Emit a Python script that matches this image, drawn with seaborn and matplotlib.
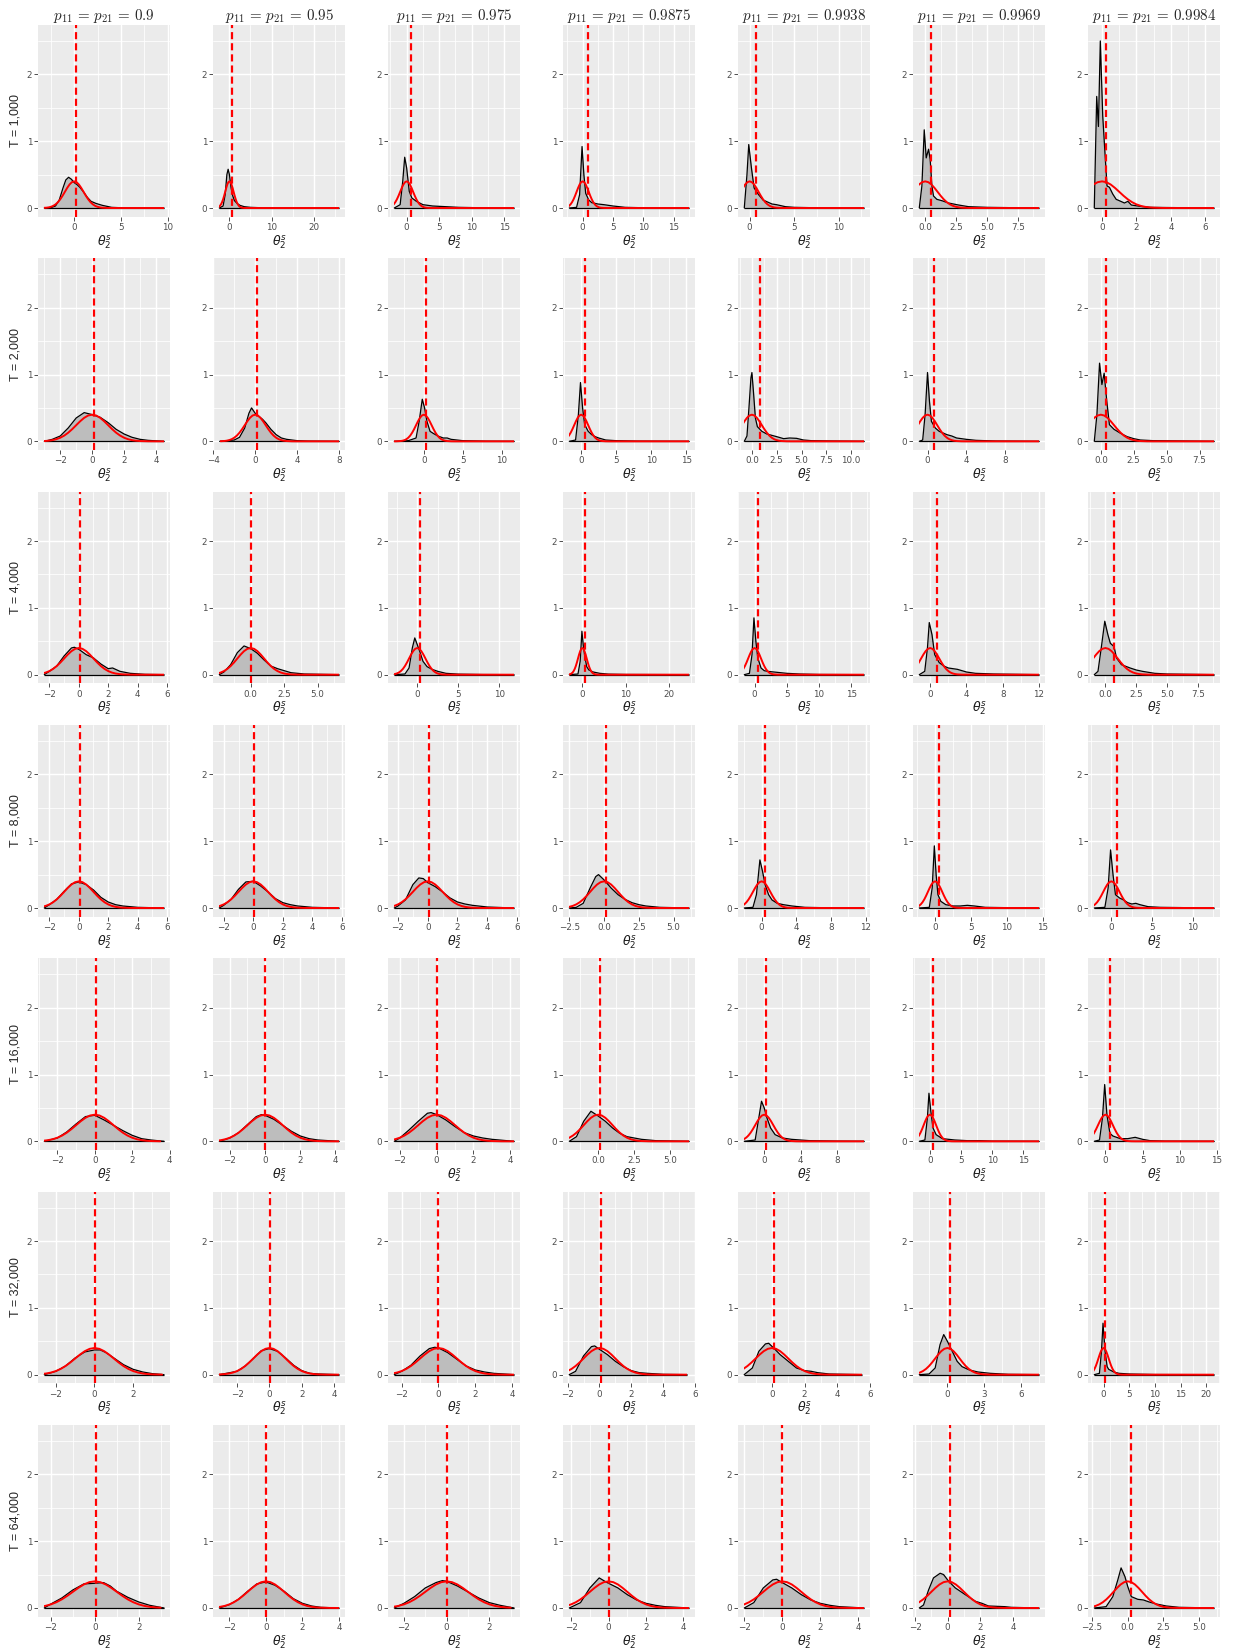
import matplotlib
matplotlib.use("Agg")
import matplotlib.pyplot as plt
from matplotlib.patches import Rectangle
import seaborn as sns

# ---------------- labels ----------------
COL_LABELS = ["0.9", "0.95", "0.975", "0.9875", "0.9938", "0.9969", "0.9984"]
ROW_LABELS = ["T = 1,000", "T = 2,000", "T = 4,000", "T = 8,000",
              "T = 16,000", "T = 32,000", "T = 64,000"]

# ---------------- reference N(0,1) curve (red) ----------------
NORMAL_X = [-4.0, -3.5, -3.0, -2.75, -2.5, -2.25, -2.0, -1.75, -1.5, -1.25, -1.0, -0.75, -0.5, -0.25,
            0.0, 0.25, 0.5, 0.75, 1.0, 1.25, 1.5, 1.75, 2.0, 2.25, 2.5, 2.75, 3.0, 3.5, 4.0]
NORMAL_Y = [0.0001, 0.0009, 0.0044, 0.0091, 0.0175, 0.0317, 0.054, 0.0863, 0.1295, 0.1826, 0.242,
            0.3011, 0.3521, 0.3867, 0.3989, 0.3867, 0.3521, 0.3011, 0.242, 0.1826, 0.1295, 0.0863,
            0.054, 0.0317, 0.0175, 0.0091, 0.0044, 0.0009, 0.0001]

# ---------------- T = 1,000 ----------------
TICKS_1000 = [[0, 5, 10], [0, 10, 20], [0, 5, 10, 15], [0, 5, 10, 15], [0, 5, 10], [0, 2.5, 5, 7.5], [0, 2, 4, 6]]
VLINE_1000 = [0.2, 0.5, 0.7, 0.8, 0.7, 0.5, 0.25]
DX_1000 = [
    [-3.2, -2.5, -2, -1.6, -1.2, -0.9, -0.6, -0.3, 0, 0.3, 0.6, 1, 1.4, 1.8, 2.3, 3, 4, 5, 7, 9.6],
    [-2.4, -1.5, -1, -0.6, -0.3, 0, 0.4, 0.8, 1.2, 1.8, 2.5, 3.5, 5, 8, 12, 26],
    [-1.9, -1.0, -0.6, -0.3, 0, 0.4, 0.8, 1.5, 2.5, 4, 6, 8, 12, 16.5],
    [-2.2, -1, -0.5, -0.1, 0.2, 0.5, 1, 1.5, 2.5, 3.5, 5, 7, 10, 17.5],
    [-0.6, -0.3, -0.1, 0.2, 0.5, 1, 1.5, 2.5, 3, 4, 5, 7, 12.8],
    [-0.48, -0.27, -0.08, 0.08, 0.27, 0.4, 0.54, 0.67, 0.94, 1.34, 1.88, 2.69, 3.5, 5, 9.2],
    [-0.45, -0.31, -0.21, -0.1, 0.04, 0.18, 0.29, 0.43, 0.62, 0.82, 1.0, 1.3, 1.5, 1.7, 2.2, 2.8, 6.5],
]
DY_1000 = [
    [0, 0.005, 0.03, 0.12, 0.3, 0.42, 0.46, 0.43, 0.38, 0.35, 0.31, 0.24, 0.16, 0.1, 0.07, 0.04, 0.01, 0.004, 0.001, 0],
    [0, 0.03, 0.2, 0.5, 0.58, 0.5, 0.3, 0.18, 0.11, 0.07, 0.04, 0.02, 0.01, 0.003, 0.001, 0],
    [0, 0.05, 0.4, 0.76, 0.6, 0.25, 0.15, 0.1, 0.05, 0.03, 0.02, 0.01, 0.003, 0],
    [0, 0.01, 0.2, 0.92, 0.5, 0.22, 0.12, 0.08, 0.06, 0.05, 0.03, 0.01, 0.004, 0],
    [0, 0.5, 0.95, 0.6, 0.3, 0.2, 0.12, 0.06, 0.05, 0.02, 0.01, 0.005, 0],
    [0, 0.33, 1.17, 0.75, 0.88, 0.73, 0.33, 0.18, 0.13, 0.11, 0.075, 0.045, 0.02, 0.01, 0],
    [0, 1.67, 1.22, 2.5, 1.38, 0.78, 0.33, 0.31, 0.21, 0.13, 0.11, 0.075, 0.1, 0.045, 0.025, 0.01, 0],
]

# ---------------- T = 2,000 ----------------
TICKS_2000 = [[-2, 0, 2, 4], [-4, 0, 4, 8], [0, 5, 10], [0, 5, 10, 15], [0, 2.5, 5, 7.5, 10], [0, 4, 8], [0, 2.5, 5, 7.5]]
VLINE_2000 = [0.1, 0.2, 0.3, 0.6, 0.8, 0.7, 0.4]
DX_2000 = [
    [-3.0, -2.5, -2, -1.5, -1, -0.5, 0, 0.5, 1, 1.5, 2, 2.5, 3, 3.5, 4.5],
    [-3.4, -2, -1.5, -1, -0.6, -0.35, 0, 0.3, 0.7, 1, 1.5, 2, 2.5, 3, 4, 5, 8],
    [-3.8, -2, -1, -0.6, -0.2, 0.1, 0.4, 0.8, 1.2, 1.8, 2.5, 3, 3.5, 5, 8, 11.6],
    [-1.7, -0.8, -0.4, -0.1, 0.2, 0.5, 1, 1.5, 2, 2.5, 3.5, 5, 8, 15.4],
    [-0.77, -0.5, -0.3, -0.1, 0, 0.15, 0.35, 0.55, 1, 1.5, 2.5, 3.2, 3.8, 4.5, 5.2, 6, 8, 11.3],
    [-0.85, -0.5, -0.25, 0, 0.2, 0.4, 0.8, 1.2, 2, 2.5, 3, 4, 5, 7, 11.5],
    [-0.5, -0.3, -0.1, 0.08, 0.25, 0.45, 0.65, 1, 1.5, 2, 2.5, 3, 4, 8.6],
]
DY_2000 = [
    [0, 0.03, 0.08, 0.2, 0.35, 0.43, 0.4, 0.36, 0.28, 0.18, 0.11, 0.06, 0.03, 0.015, 0],
    [0, 0.02, 0.06, 0.2, 0.42, 0.5, 0.42, 0.38, 0.33, 0.28, 0.18, 0.1, 0.05, 0.03, 0.01, 0.004, 0],
    [0, 0.01, 0.05, 0.3, 0.63, 0.5, 0.3, 0.15, 0.12, 0.08, 0.05, 0.05, 0.03, 0.01, 0.002, 0],
    [0, 0.02, 0.4, 0.88, 0.5, 0.25, 0.15, 0.1, 0.07, 0.05, 0.02, 0.01, 0.003, 0],
    [0, 0.08, 0.5, 0.95, 1.03, 0.75, 0.35, 0.22, 0.15, 0.11, 0.07, 0.04, 0.05, 0.045, 0.02, 0.01, 0.005, 0],
    [0, 0.02, 0.4, 1.03, 0.6, 0.3, 0.2, 0.15, 0.1, 0.08, 0.05, 0.03, 0.015, 0.005, 0],
    [0, 0.4, 1.17, 0.85, 1.02, 0.6, 0.25, 0.18, 0.12, 0.07, 0.04, 0.02, 0.01, 0],
]

# ---------------- T = 4,000 ----------------
TICKS_4000 = [[-2, 0, 2, 4, 6], [0, 2.5, 5], [0, 5, 10], [0, 10, 20], [0, 5, 10, 15], [0, 4, 8, 12], [0, 2.5, 5, 7.5]]
VLINE_4000 = [0.05, 0.05, 0.3, 0.6, 0.6, 0.8, 0.7]
DX_4000 = [
    [-2.35, -2, -1.5, -1, -0.5, -0.3, 0, 0.5, 1, 1.5, 2, 2.3, 2.8, 3.5, 4.5, 5.8],
    [-2.35, -2, -1.5, -1, -0.5, 0, 0.5, 1, 1.5, 2, 2.5, 3, 4, 6.6],
    [-2.8, -1.5, -1, -0.6, -0.3, 0, 0.3, 0.7, 1.2, 1.8, 2.5, 3.5, 5, 8, 11.8],
    [-3, -1, -0.5, -0.1, 0.2, 0.5, 1, 1.5, 2.5, 4, 6, 10, 24.5],
    [-1.6, -0.8, -0.4, -0.1, 0.2, 0.5, 1, 1.5, 2, 3, 4, 5, 7, 10, 17],
    [-1.2, -0.6, -0.3, -0.1, 0.2, 0.5, 1, 1.5, 2, 3, 4, 5, 7, 12],
    [-0.9, -0.6, -0.3, -0.05, 0.2, 0.4, 0.7, 0.9, 1.3, 2, 2.5, 3, 4, 5, 8.8],
]
DY_4000 = [
    [0, 0.05, 0.13, 0.28, 0.4, 0.41, 0.38, 0.3, 0.25, 0.16, 0.09, 0.1, 0.05, 0.02, 0.005, 0],
    [0, 0.04, 0.15, 0.33, 0.43, 0.39, 0.32, 0.22, 0.13, 0.09, 0.06, 0.03, 0.01, 0],
    [0, 0.01, 0.1, 0.4, 0.55, 0.45, 0.35, 0.2, 0.12, 0.08, 0.05, 0.02, 0.008, 0.002, 0],
    [0, 0.01, 0.2, 0.65, 0.45, 0.3, 0.12, 0.07, 0.04, 0.02, 0.008, 0.003, 0],
    [0, 0.02, 0.3, 0.85, 0.5, 0.25, 0.1, 0.06, 0.05, 0.04, 0.03, 0.02, 0.01, 0.003, 0],
    [0, 0.05, 0.4, 0.78, 0.6, 0.3, 0.18, 0.13, 0.1, 0.08, 0.04, 0.02, 0.01, 0],
    [0, 0.05, 0.45, 0.8, 0.6, 0.47, 0.42, 0.25, 0.15, 0.1, 0.07, 0.05, 0.02, 0.01, 0],
]

# ---------------- T = 8,000 ----------------
TICKS_8000 = [[-2, 0, 2, 4, 6], [-2, 0, 2, 4, 6], [-2, 0, 2, 4, 6], [-2.5, 0, 2.5, 5], [0, 4, 8, 12], [0, 5, 10, 15], [0, 5, 10]]
VLINE_8000 = [0.05, 0.05, 0.1, 0.15, 0.4, 0.6, 0.7]
DX_8000 = [
    [-2.35, -2, -1.5, -1, -0.5, 0, 0.5, 1, 1.5, 2, 2.5, 3, 4, 5.8],
    [-2.3, -2, -1.5, -1, -0.5, 0, 0.5, 1, 1.5, 2, 2.5, 3, 4, 5.8],
    [-2.25, -2, -1.5, -1, -0.6, -0.3, 0, 0.5, 1, 1.5, 2, 2.5, 3, 4, 5.8],
    [-2.5, -2, -1.5, -1, -0.6, -0.4, 0, 0.5, 1, 1.5, 2, 2.5, 3, 4, 6.1],
    [-2, -1, -0.6, -0.2, 0.1, 0.4, 0.8, 1.2, 1.8, 2.5, 3.5, 5, 7, 11.8],
    [-2.2, -0.8, -0.4, -0.1, 0.15, 0.4, 0.8, 1.5, 2.5, 3.5, 4.5, 5.5, 7, 10, 14.5],
    [-2.1, -0.8, -0.4, -0.1, 0.2, 0.5, 1, 1.5, 2, 2.5, 3, 3.5, 4.5, 6, 12.6],
]
DY_8000 = [
    [0, 0.05, 0.13, 0.25, 0.36, 0.39, 0.35, 0.27, 0.16, 0.09, 0.05, 0.03, 0.01, 0],
    [0, 0.04, 0.13, 0.28, 0.39, 0.4, 0.33, 0.24, 0.14, 0.08, 0.05, 0.03, 0.01, 0],
    [0, 0.03, 0.12, 0.35, 0.45, 0.44, 0.38, 0.32, 0.24, 0.15, 0.09, 0.06, 0.04, 0.015, 0],
    [0, 0.01, 0.07, 0.3, 0.47, 0.5, 0.42, 0.3, 0.2, 0.13, 0.08, 0.05, 0.03, 0.01, 0],
    [0, 0.01, 0.2, 0.72, 0.55, 0.35, 0.2, 0.12, 0.07, 0.05, 0.03, 0.01, 0.005, 0],
    [0, 0.01, 0.3, 0.93, 0.5, 0.2, 0.1, 0.05, 0.03, 0.03, 0.04, 0.03, 0.01, 0.005, 0],
    [0, 0.01, 0.3, 0.87, 0.5, 0.2, 0.15, 0.12, 0.08, 0.06, 0.07, 0.05, 0.02, 0.01, 0],
]

# ---------------- T = 16,000 ----------------
TICKS_16000 = [[-2, 0, 2, 4], [-2, 0, 2, 4], [-2, 0, 2, 4], [0, 2.5, 5], [0, 4, 8], [0, 5, 10, 15], [0, 5, 10, 15]]
VLINE_16000 = [0.05, 0.0, 0.0, 0.1, 0.2, 0.5, 0.6]
DX_16000 = [
    [-2.7, -2, -1.5, -1, -0.5, 0, 0.5, 1, 1.5, 2, 2.5, 3, 3.7],
    [-2.6, -2, -1.5, -1, -0.5, -0.2, 0, 0.5, 1, 1.5, 2, 2.5, 3, 4.2],
    [-2.3, -2, -1.5, -1, -0.5, -0.3, 0, 0.5, 1, 1.5, 2, 2.5, 3, 4.2],
    [-2, -1.5, -1, -0.5, 0, 0.5, 1, 1.5, 2, 2.5, 3, 4, 6.3],
    [-2.2, -1, -0.6, -0.3, 0, 0.3, 0.7, 1.2, 2, 3, 4, 5, 8, 11],
    [-1.7, -0.8, -0.4, -0.15, 0.15, 0.5, 1, 2, 3, 4, 6, 8, 10, 17.5],
    [-1.5, -0.8, -0.4, -0.1, 0.2, 0.6, 1, 2, 3, 4, 5, 6, 8, 14.6],
]
DY_16000 = [
    [0, 0.05, 0.14, 0.26, 0.37, 0.39, 0.32, 0.24, 0.16, 0.09, 0.04, 0.02, 0],
    [0, 0.05, 0.13, 0.25, 0.37, 0.4, 0.39, 0.33, 0.24, 0.15, 0.08, 0.04, 0.02, 0],
    [0, 0.05, 0.17, 0.3, 0.42, 0.43, 0.4, 0.32, 0.22, 0.13, 0.08, 0.05, 0.03, 0],
    [0, 0.07, 0.3, 0.45, 0.38, 0.3, 0.2, 0.12, 0.07, 0.05, 0.03, 0.01, 0],
    [0, 0.02, 0.35, 0.6, 0.5, 0.35, 0.2, 0.1, 0.05, 0.03, 0.02, 0.01, 0.003, 0],
    [0, 0.02, 0.35, 0.72, 0.45, 0.2, 0.1, 0.04, 0.03, 0.02, 0.01, 0.01, 0.003, 0],
    [0, 0.02, 0.35, 0.85, 0.4, 0.12, 0.08, 0.04, 0.04, 0.06, 0.03, 0.01, 0.003, 0],
]

# ---------------- T = 32,000 ----------------
TICKS_32000 = [[-2, 0, 2], [-2, 0, 2, 4], [-2, 0, 2, 4], [-2, 0, 2, 4, 6], [0, 2, 4, 6], [0, 3, 6], [0, 5, 10, 15, 20]]
VLINE_32000 = [0.05, 0.05, 0.0, 0.1, 0.15, 0.2, 0.3]
DX_32000 = [
    [-2.6, -2, -1.5, -1, -0.5, 0, 0.3, 0.6, 1, 1.5, 2, 2.5, 3, 3.6],
    [-3.1, -2, -1.5, -1, -0.5, 0, 0.5, 1, 1.5, 2, 2.5, 3, 4.3],
    [-2.4, -2, -1.5, -1, -0.5, -0.2, 0, 0.5, 1, 1.5, 2, 2.5, 3, 4.1],
    [-1.9, -1.5, -1, -0.5, -0.3, 0, 0.5, 1, 1.5, 2, 2.5, 3, 4, 5.5],
    [-1.7, -1.2, -0.8, -0.4, -0.2, 0.1, 0.5, 1, 1.5, 2, 2.4, 2.8, 3.5, 5.5],
    [-2.3, -1.5, -1, -0.6, -0.3, 0, 0.4, 0.8, 1.2, 1.8, 2.5, 3.5, 5, 7.5],
    [-1.8, -0.8, -0.4, -0.1, 0.3, 0.7, 1, 2, 3, 5, 10, 21.5],
]
DY_32000 = [
    [0, 0.05, 0.13, 0.25, 0.34, 0.37, 0.37, 0.33, 0.25, 0.15, 0.08, 0.04, 0.015, 0],
    [0, 0.05, 0.13, 0.24, 0.36, 0.39, 0.35, 0.25, 0.14, 0.06, 0.02, 0.01, 0],
    [0, 0.05, 0.14, 0.28, 0.39, 0.41, 0.4, 0.33, 0.23, 0.13, 0.07, 0.04, 0.02, 0],
    [0, 0.05, 0.28, 0.42, 0.43, 0.38, 0.3, 0.2, 0.12, 0.06, 0.03, 0.02, 0.005, 0],
    [0, 0.1, 0.35, 0.46, 0.47, 0.4, 0.3, 0.2, 0.1, 0.06, 0.05, 0.03, 0.01, 0],
    [0, 0.01, 0.1, 0.45, 0.6, 0.5, 0.35, 0.2, 0.12, 0.07, 0.04, 0.02, 0.005, 0],
    [0, 0.02, 0.35, 0.77, 0.35, 0.12, 0.08, 0.04, 0.02, 0.01, 0.002, 0],
]

# ---------------- T = 64,000 ----------------
TICKS_64000 = [[-2, 0, 2], [-2, 0, 2, 4], [-2, 0, 2], [-2, 0, 2, 4], [-2, 0, 2, 4], [-2, 0, 2, 4], [-2.5, 0, 2.5, 5]]
VLINE_64000 = [0.05, 0.0, 0.0, 0.0, 0.0, 0.12, 0.2]
DX_64000 = [
    [-2.3, -2, -1.5, -1, -0.5, 0, 0.4, 0.7, 1, 1.5, 2, 2.5, 3.15],
    [-2.55, -2, -1.5, -1, -0.5, 0, 0.5, 1, 1.5, 2, 2.5, 3, 4.0],
    [-2.45, -2, -1.5, -1, -0.5, -0.2, 0, 0.5, 1, 1.5, 2, 2.5, 3.15],
    [-2.1, -1.5, -1, -0.5, -0.2, 0, 0.5, 1, 1.5, 2, 2.5, 3, 4.3],
    [-2, -1.5, -1, -0.5, -0.3, 0, 0.5, 1, 1.5, 2, 2.5, 3, 4.3],
    [-1.74, -1.48, -1.17, -0.87, -0.46, -0.25, 0.06, 0.47, 1.08, 1.7, 2.1, 2.5, 3.5, 3.9, 5.6],
    [-2.35, -1.52, -1.05, -0.7, -0.47, -0.2, 0, 0.25, 0.7, 1.1, 1.5, 2, 2.7, 3.6, 6.05],
]
DY_64000 = [
    [0, 0.06, 0.15, 0.27, 0.36, 0.37, 0.38, 0.33, 0.25, 0.16, 0.09, 0.04, 0],
    [0, 0.05, 0.13, 0.25, 0.36, 0.39, 0.34, 0.25, 0.14, 0.07, 0.03, 0.01, 0],
    [0, 0.07, 0.17, 0.3, 0.38, 0.41, 0.4, 0.33, 0.24, 0.15, 0.08, 0.04, 0],
    [0, 0.08, 0.3, 0.45, 0.4, 0.37, 0.3, 0.2, 0.12, 0.07, 0.04, 0.02, 0],
    [0, 0.08, 0.3, 0.42, 0.43, 0.38, 0.3, 0.2, 0.12, 0.07, 0.04, 0.02, 0],
    [0, 0.045, 0.27, 0.45, 0.52, 0.5, 0.4, 0.3, 0.2, 0.1, 0.07, 0.03, 0.02, 0.01, 0],
    [0, 0.02, 0.17, 0.42, 0.6, 0.47, 0.32, 0.17, 0.13, 0.12, 0.09, 0.06, 0.03, 0.01, 0],
]

ROWS = [
    (TICKS_1000, VLINE_1000, DX_1000, DY_1000),
    (TICKS_2000, VLINE_2000, DX_2000, DY_2000),
    (TICKS_4000, VLINE_4000, DX_4000, DY_4000),
    (TICKS_8000, VLINE_8000, DX_8000, DY_8000),
    (TICKS_16000, VLINE_16000, DX_16000, DY_16000),
    (TICKS_32000, VLINE_32000, DX_32000, DY_32000),
    (TICKS_64000, VLINE_64000, DX_64000, DY_64000),
]

# ---------------- style (ggplot2 theme_gray look) ----------------
sns.set_theme(style="darkgrid")
plt.rcParams.update({
    "font.family": ["DejaVu Sans"],
    "axes.facecolor": "#EBEBEB",
    "figure.facecolor": "white",
    "axes.edgecolor": "none",
    "xtick.color": "#333333",
    "ytick.color": "#333333",
    "xtick.labelcolor": "#4D4D4D",
    "ytick.labelcolor": "#4D4D4D",
})

W, H = 1240, 1648
fig = plt.figure(figsize=(W / 100, H / 100), dpi=100)

PX_LEFT0, PX_PITCH_X, PX_W = 38.3, 175.0, 131.7
PX_TOP0, PX_PITCH_Y, PX_H = 25.0, 233.33, 191.7
YLIM = (-0.130, 2.739)

for r, (ticks_row, vline_row, dx_row, dy_row) in enumerate(ROWS):
    for c in range(7):
        left = PX_LEFT0 + PX_PITCH_X * c
        top = PX_TOP0 + PX_PITCH_Y * r
        ax = fig.add_axes([left / W, 1 - (top + PX_H) / H, PX_W / W, PX_H / H])
        ax.set_facecolor("#EBEBEB")
        dx, dy = dx_row[c], dy_row[c]
        xmin, xmax = dx[0], dx[-1]
        span = xmax - xmin
        xl = (xmin - 0.05 * span, xmax + 0.05 * span)

        # grid lines (drawn manually, ggplot style)
        ticks = ticks_row[c]
        step = ticks[1] - ticks[0]
        minors = [ticks[0] - step / 2] + [t + step / 2 for t in ticks]
        ax.grid(False)
        for m in minors:
            if xl[0] < m < xl[1]:
                ax.axvline(m, color="white", lw=0.55, zorder=0.5)
        for t in ticks:
            ax.axvline(t, color="white", lw=1.05, zorder=0.6)
        for m in [0.5, 1.5, 2.5]:
            ax.axhline(m, color="white", lw=0.55, zorder=0.5)
        for t in [0, 1, 2]:
            ax.axhline(t, color="white", lw=1.05, zorder=0.6)

        # empirical density (black, grey fill)
        ax.fill_between(dx, dy, 0, color="#BDBDBD", lw=0, zorder=1)
        sns.lineplot(x=dx, y=dy, sort=False, estimator=None, color="black", lw=0.9, ax=ax, zorder=2)
        ax.plot([xmin, xmax], [0, 0], color="black", lw=0.9, zorder=2, solid_capstyle="butt")

        # N(0,1) reference (red), restricted to data range
        nx = [x for x in NORMAL_X if x <= xmax]
        ny = NORMAL_Y[:len(nx)]
        if xmax > NORMAL_X[-1]:
            nx = nx + [xmax]
            ny = ny + [0.0]
        sns.lineplot(x=nx, y=ny, sort=False, estimator=None, color="#FF0000", lw=1.4, ax=ax, zorder=3)
        clip = Rectangle((xmin, -1), xmax - xmin, 5, transform=ax.transData)
        ax.lines[-1].set_clip_path(clip)

        # vertical dashed line
        ax.axvline(vline_row[c], color="#FF0000", lw=1.6, dashes=(3.2, 1.8), zorder=4)

        ax.set_xlim(xl)
        ax.set_ylim(YLIM)
        ax.set_xticks(ticks)
        if any(float(t) != int(t) for t in ticks):
            labels = [f"{t:.1f}" for t in ticks]
        else:
            labels = [f"{int(t)}" for t in ticks]
        labels = [s.replace("-", "\u2212") for s in labels]
        ax.set_xticklabels(labels)
        ax.set_yticks([0, 1, 2])
        ax.set_yticklabels(["0", "1", "2"])
        ax.tick_params(axis="both", length=3.0, width=0.6, pad=1.5, labelsize=6.3,
                       bottom=True, left=True)
        for s in ax.spines.values():
            s.set_visible(False)
        ax.set_xlabel(r"$\boldsymbol{\theta_2^s}$", fontsize=9, labelpad=1,
                      math_fontfamily="dejavusans", color="#1A1A1A")
        ax.set_ylabel("")

        if r == 0:
            ax.set_title(r"$p_{11}\,=\,p_{21}\,=\," + COL_LABELS[c] + r"$", fontsize=10.8,
                         math_fontfamily="cm", pad=3.5)
        if c == 0:
            fig.text(15 / W, 1 - (top + PX_H / 2) / H, ROW_LABELS[r], rotation=90,
                     ha="center", va="center", fontsize=9,
                     family=["Liberation Sans Narrow", "Liberation Sans", "DejaVu Sans"])

fig.savefig("out.png", dpi=100)
